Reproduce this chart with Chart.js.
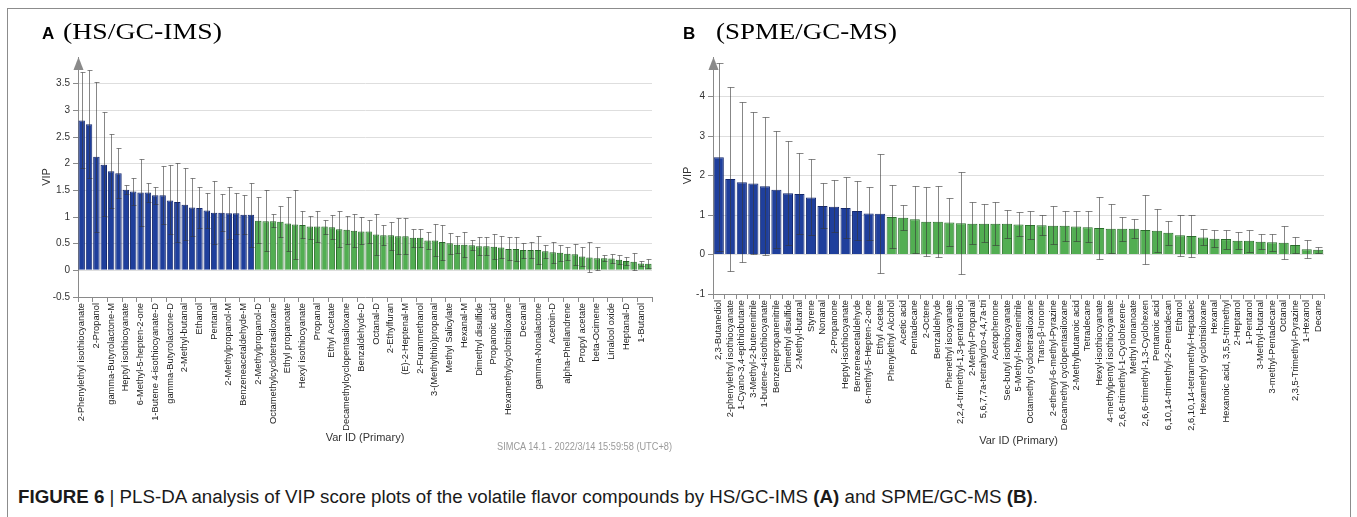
<!DOCTYPE html>
<html><head><meta charset="utf-8">
<script src="https://cdn.jsdelivr.net/npm/chart.js@4.4.1/dist/chart.umd.min.js"></script>
<style>
html,body{margin:0;padding:0;background:#fff;width:1357px;height:517px;overflow:hidden;position:relative;font-family:"Liberation Sans",Arial,sans-serif}
#frame{position:absolute;left:7px;top:8px;width:1344px;height:540px;border:1px solid #8c8c8c;box-sizing:border-box}
.wrap{position:absolute;top:0;height:460px}
#wa{left:0;width:680px}
#wb{left:660px;width:697px}
.t{position:absolute;white-space:nowrap;line-height:1;transform-origin:0 0}
.lt{font-family:"Liberation Sans",Arial,sans-serif;font-weight:bold;font-size:17px;color:#000}
.st{font-family:"Liberation Serif","Times New Roman",serif;font-size:24px;color:#000}
#simca{font-size:10px;color:#9a9a9a}
#cap{font-size:18px;color:#1a1a1a}
</style>
</head><body>
<div id="frame"></div>
<div class="wrap" id="wa"><canvas id="ca"></canvas></div>
<div class="wrap" id="wb"><canvas id="cb"></canvas></div>
<div class="t lt" id="la" style="left:42px;top:25px">A</div>
<div class="t st" id="sa" style="left:63px;top:19px">(HS/GC-IMS)</div>
<div class="t lt" id="lb" style="left:683px;top:25px">B</div>
<div class="t st" id="sb" style="left:716px;top:19px">(SPME/GC-MS)</div>
<div class="t" id="simca" style="left:497px;top:442px">SIMCA 14.1 - 2022/3/14 15:59:58 (UTC+8)</div>
<div class="t" id="cap" style="left:18px;top:488px"><b>FIGURE 6</b> | PLS-DA analysis of VIP score plots of the volatile flavor compounds by HS/GC-IMS <b>(A)</b> and SPME/GC-MS <b>(B)</b>.</div>
<script>
// ---------- Panel A (HS/GC-IMS): 78 variables, every other one labelled ----------
const labelsA = ["2-Phenylethyl isothiocyanate","2-Propanol","gamma-Butyrolactone-M","Heptyl isothiocyanate","6-Methyl-5-hepten-2-one","1-Butene 4-isothiocyanate-D","gamma-Butyrolactone-D","2-Methyl-butanal","Ethanol","Pentanal","2-Methylpropanol-M","Benzeneacetaldehyde-M","2-Methylpropanol-D","Octamethylcyclotetrasiloxane","Ethyl propanoate","Hexyl isothiocyanate","Propanal","Ethyl Acetate","Decamethylcyclopentasiloxane","Benzaldehyde-D","Octanal-D","2-Ethylfuran","(E)-2-Heptenal-M","2-Furanmethanol","3-(Methylthio)propanal","Methyl Salicylate","Hexanal-M","Dimethyl disulfide","Propanoic acid","Hexamethylcyclotrisiloxane","Decanal","gamma-Nonalactone","Acetoin-D","alpha-Phellandrene","Propyl acetate","beta-Ocimene","Linalool oxide","Heptanal-D","1-Butanol"];
const vipA = [2.81,2.74,2.13,1.98,1.86,1.82,1.51,1.48,1.46,1.46,1.41,1.41,1.31,1.28,1.23,1.18,1.17,1.12,1.08,1.08,1.07,1.07,1.04,1.04,
0.93,0.92,0.92,0.91,0.88,0.86,0.85,0.82,0.82,0.82,0.81,0.77,0.76,0.74,
0.73,0.73,0.67,0.66,0.66,0.64,0.64,0.61,0.61,0.56,0.56,0.53,0.51,0.48,0.48,0.47,0.45,0.45,0.44,0.43,
0.40,0.40,0.38,0.38,0.38,0.36,0.34,0.33,0.31,0.30,0.26,0.24,0.225,0.225,0.22,0.20,0.175,0.16,0.13,0.125];
const hiA = [3.72,3.76,3.54,2.97,2.56,2.30,1.60,1.73,2.09,1.63,1.57,1.96,1.97,2.02,1.91,1.74,1.56,1.45,1.67,1.43,1.57,1.45,1.42,1.64,
1.37,1.51,1.06,1.21,1.38,1.51,1.11,1.01,1.11,0.95,1.04,1.11,1.02,1.05,
1.00,0.95,1.05,0.85,0.91,0.975,0.975,0.78,0.77,0.72,0.86,0.85,0.70,0.65,0.72,0.56,0.62,0.625,0.675,0.64,
0.62,0.63,0.52,0.525,0.65,0.475,0.54,0.48,0.43,0.50,0.43,0.525,0.44,0.29,0.30,0.29,0.25,0.33,0.18,0.21];
const loA = [1.91,1.73,0.72,1.01,1.16,1.36,1.43,1.23,0.83,1.29,1.24,0.86,0.68,0.54,0.56,0.64,0.80,0.79,0.50,0.74,0.59,0.69,0.68,0.44,
0.52,0.36,0.81,0.63,0.37,0.22,0.60,0.58,0.54,0.69,0.59,0.43,0.50,0.44,
0.49,0.52,0.28,0.48,0.39,0.31,0.31,0.43,0.44,0.40,0.27,0.20,0.31,0.32,0.25,0.39,0.28,0.28,0.22,0.225,
0.19,0.175,0.24,0.24,0.125,0.24,0.13,0.18,0.20,0.10,0.09,-0.03,0.01,0.17,0.14,0.11,0.10,0.0,0.075,0.04];
const yTicksA = [-0.5,0,0.5,1,1.5,2,2.5,3,3.5];

// ---------- Panel B (SPME/GC-MS): 53 variables ----------
const labelsB = ["2,3-Butanediol","2-phenylethyl isothiocyanate","1-Cyano-3,4-epithiobutane","3-Methyl-2-butenenitrile","1-butene-4-isothiocyanate","Benzenepropanenitrile","Dimethyl disulfide","2-Methyl-butanal","Styrene","Nonanal","2-Propanone","Heptyl-isothiocyanate","Benzeneacetaldehyde","6-methyl-5-Hepten-2-one","Ethyl Acetate","Phenylethyl Alcohol","Acetic acid","Pentadecane","2-Octene","Benzaldehyde","Phenethyl isocyanate","2,2,4-trimethyl-1,3-pentanedio","2-Methyl-Propanal","5,6,7,7a-tetrahydro-4,4,7a-tri","Acetophenone","Sec-butyl isothiocyanate","5-Methyl-hexanenitrile","Octamethyl cyclotetrasiloxane","Trans-β-Ionone","2-ethenyl-6-methyl-Pyrazine","Decamethyl cyclopentasiloxane","2-Methylbutanoic acid","Tetradecane","Hexyl-isothiocyanate","4-methylpentyl isothiocyanate","2,6,6-trimethyl-1-Cyclohexene-","Methyl nonanoate","2,6,6-trimethyl-1,3-Cyclohexen","Pentanoic acid","6,10,14-trimethyl-2-Pentadecan","Ethanol","2,6,10,14-tetramethyl-Heptadec","Hexamethyl cyclotrisiloxane","Hexanal","Hexanoic acid, 3,5,5-trimethyl","2-Heptanol","1-Pentanol","3-Methyl-butanal","3-methyl-Pentadecane","Octanal","2,3,5-Trimethyl-Pyrazine","1-Hexanol","Decane"];
const vipB = [2.46,1.91,1.83,1.80,1.73,1.64,1.55,1.53,1.44,1.23,1.21,1.18,1.10,1.04,1.03,
0.95,0.93,0.89,0.83,0.83,0.81,0.79,0.78,0.78,0.78,0.78,0.76,0.75,0.74,0.73,0.73,0.71,0.69,0.67,0.65,0.65,0.65,0.62,0.60,0.55,0.49,0.47,0.43,0.40,0.39,0.35,0.35,0.32,0.31,0.30,0.24,0.13,0.12];
const hiB = [4.84,4.24,3.86,3.61,3.49,3.13,2.88,2.56,2.41,1.80,1.88,1.97,1.85,1.70,2.54,
1.75,1.25,1.74,1.72,1.73,1.43,2.10,1.33,1.27,1.32,1.12,1.07,1.11,1.01,1.22,1.11,1.09,1.09,1.46,1.27,0.96,0.89,1.51,1.14,0.86,1.01,1.01,0.64,0.62,0.63,0.56,0.62,0.51,0.53,0.73,0.45,0.36,0.20];
const loB = [0.09,-0.41,-0.19,0.02,-0.02,0.17,0.24,0.52,0.50,0.68,0.57,0.41,0.37,0.36,-0.46,
0.17,0.62,0.03,-0.04,-0.07,0.21,-0.49,0.26,0.31,0.25,0.43,0.46,0.39,0.49,0.26,0.34,0.34,0.31,-0.12,0.03,0.34,0.41,-0.25,0.06,0.24,-0.03,-0.06,0.23,0.20,0.14,0.14,0.07,0.14,0.08,-0.12,0.03,-0.09,0.03];
const yTicksB = [-1,0,1,2,3,4];

// categories for A: named variables at even positions, unnamed between them
const categoriesA = [];
labelsA.forEach((n) => { categoriesA.push(n); categoriesA.push(''); });
const categoriesB = labelsB.slice();

const BLUE = '#1f3f9c', BLUE_B = '#15296e', GREEN = '#52ae52', GREEN_B = '#2a6f2a';

function makeChart(id, cats, vals, lo, hi, yTicks, cfg) {
  const errPlugin = {
    id: 'err' + id,
    afterDatasetsDraw(chart) {
      const { ctx, scales: { x, y } } = chart;
      ctx.save();
      ctx.strokeStyle = 'rgba(55,55,55,0.6)';
      ctx.lineWidth = 1;
      for (let i = 0; i < vals.length; i++) {
        const px = Math.round(x.getPixelForValue(i)) + 0.5;
        const y1 = Math.round(y.getPixelForValue(lo[i])) + 0.5;
        const y2 = Math.round(y.getPixelForValue(hi[i])) + 0.5;
        ctx.beginPath();
        ctx.moveTo(px, y1); ctx.lineTo(px, y2);
        ctx.moveTo(px - cfg.cap, y1); ctx.lineTo(px + cfg.cap + 1, y1);
        ctx.moveTo(px - cfg.cap, y2); ctx.lineTo(px + cfg.cap + 1, y2);
        ctx.stroke();
      }
      ctx.restore();
    }
  };
  const arrowPlugin = {
    id: 'arrow' + id,
    afterDraw(chart) {
      const { ctx, chartArea: { left, top } } = chart;
      ctx.save();
      ctx.fillStyle = '#8a8a8a';
      ctx.beginPath();
      ctx.moveTo(left + 0.5, top);
      ctx.lineTo(left - 4.5, top + 13);
      ctx.lineTo(left + 5.5, top + 13);
      ctx.closePath();
      ctx.fill();
      ctx.restore();
    }
  };
  const yMin = yTicks[0];
  return new Chart(document.getElementById(id), {
    type: 'bar',
    data: {
      labels: cats,
      datasets: [{
        data: vals,
        backgroundColor: (c) => (c.raw > 1 ? BLUE : GREEN),
        borderColor: (c) => (c.raw > 1 ? BLUE_B : GREEN_B),
        borderWidth: 1,
        categoryPercentage: 1,
        barPercentage: cfg.barPct
      }]
    },
    options: {
      responsive: true,
      maintainAspectRatio: false,
      animation: false,
      events: [],
      layout: { padding: { left: cfg.padLeft, right: cfg.padRight, top: cfg.padTop, bottom: 0 } },
      plugins: { legend: { display: false }, tooltip: { enabled: false } },
      scales: {
        x: {
          afterFit: (s) => { s.height = cfg.xHeight; },
          grid: {
            drawOnChartArea: false, drawTicks: true, tickLength: 5,
            tickColor: (c) => (cfg.everyOther && c.index % 2 === 1 ? 'rgba(0,0,0,0)' : '#8a8a8a')
          },
          border: { display: true, color: '#8a8a8a' },
          ticks: {
            autoSkip: false, minRotation: 90, maxRotation: 90, padding: 1,
            color: '#222', font: { family: '"Liberation Sans", Arial, sans-serif', size: 9.3 }
          },
          title: {
            display: true, text: 'Var ID (Primary)', color: '#333',
            font: { family: '"Liberation Sans", Arial, sans-serif', size: 11 },
            padding: { top: 0, bottom: cfg.xTitleBottom }
          }
        },
        y: {
          min: yMin, max: cfg.yMax,
          afterFit: (s) => { s.width = cfg.yWidth; },
          afterBuildTicks: (s) => { s.ticks = yTicks.map((v) => ({ value: v })); },
          grid: {
            color: (c) => (c.tick && c.tick.value === yMin ? 'rgba(0,0,0,0)' : '#dedede'),
            tickColor: '#8a8a8a', tickLength: 5, lineWidth: 1
          },
          border: { display: true, color: '#8a8a8a' },
          ticks: {
            padding: 3, color: '#333',
            font: { family: '"Liberation Sans", Arial, sans-serif', size: 10 },
            callback: (v) => String(v)
          },
          title: {
            display: true, text: 'VIP', color: '#333',
            font: { family: '"Liberation Sans", Arial, sans-serif', size: 11 },
            padding: { top: 0, bottom: 0 }
          }
        }
      }
    },
    plugins: [errPlugin, arrowPlugin]
  });
}

makeChart('ca', categoriesA, vipA, loA, hiA, yTicksA, {
  everyOther: true, cap: 2, barPct: 0.88, yMax: 4,
  padLeft: 40, padRight: 28, padTop: 57, yWidth: 38, xHeight: 163, xTitleBottom: 15
});
makeChart('cb', categoriesB, vipB, loB, hiB, yTicksB, {
  everyOther: false, cap: 3, barPct: 0.88, yMax: 5,
  padLeft: 21, padRight: 33, padTop: 57, yWidth: 32, xHeight: 166, xTitleBottom: 12
});

function fit(id, target) {
  const el = document.getElementById(id);
  const w = el.getBoundingClientRect().width;
  el.style.transform = 'scaleX(' + (target / w) + ')';
}
fit('sa', 159); fit('sb', 181); fit('simca', 175); fit('cap', 1020);
</script>
</body></html>
